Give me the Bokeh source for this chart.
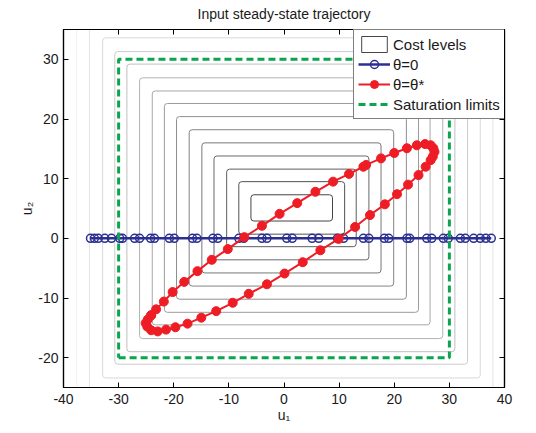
from bokeh.plotting import figure
from bokeh.models import (FixedTicker, LinearAxis, Range1d, Legend, LegendItem,
                          ColumnDataSource)
from bokeh.embed import file_html
from bokeh.resources import INLINE

# ---------------- data ----------------
title_text = "Input steady-state trajectory"
x_label = "u\u2081"
y_label = "u\u2082"
x_ticks = [-40, -30, -20, -10, 0, 10, 20, 30, 40]
y_ticks = [-20, -10, 0, 10, 20, 30]
x_tick_labels = ["-40", "-30", "-20", "-10", "0", "10", "20", "30", "40"]
y_tick_labels = ["-20", "-10", "0", "10", "20", "30"]

# cost level contours (rounded rectangles), innermost first
cost_left = [-6.0, -8.2, -10.4, -12.7, -14.9, -17.2, -19.5, -21.7, -23.9, -26.2,
             -28.5, -30.7, -32.9, -35.3, -37.6]
cost_right = [8.8, 11.0, 13.1, 15.4, 17.6, 19.9, 22.2, 24.4, 26.5, 28.8,
              31.0, 33.3, 35.6, 37.9, 40.2]
cost_bottom = [2.9, 0.7, -1.4, -3.6, -5.8, -8.0, -10.2, -12.4, -14.5, -16.8,
               -19.0, -21.1, -23.4, -25.6, -27.8]
cost_top = [7.3, 9.5, 11.6, 13.8, 16.0, 18.2, 20.4, 22.6, 24.7, 26.9,
            29.2, 31.3, 33.6, 35.8, 38.0]

# theta = 0 trajectory
blue_u1 = [-35.1, -34.4, -33.7, -32.5, -31.3, -29.8, -29.3, -27.1, -26.2, -24.2,
           -23.5, -20.8, -19.9, -16.6, -15.8, -12.9, -12.0, -8.2, -7.3, -4.0,
           -3.1, 0.5, 1.5, 5.1, 6.3, 9.7, 10.8, 14.4, 15.4, 18.2,
           19.0, 22.3, 22.8, 25.9, 26.8, 28.9, 29.8, 32.0, 32.9, 34.4,
           35.6, 36.6, 37.6]
blue_u2 = [0.0, 0.0, 0.0, 0.0, 0.0, 0.0, 0.0, 0.0, 0.0, 0.0,
           0.0, 0.0, 0.0, 0.0, 0.0, 0.0, 0.0, 0.0, 0.0, 0.0,
           0.0, 0.0, 0.0, 0.0, 0.0, 0.0, 0.0, 0.0, 0.0, 0.0,
           0.0, 0.0, 0.0, 0.0, 0.0, 0.0, 0.0, 0.0, 0.0, 0.0,
           0.0, 0.0, 0.0]

# theta = theta* trajectory (closed loop)
red_u1 = [-24.1, -23.2, -21.8, -20.2, -18.1, -15.7, -13.1, -10.2, -7.2, -4.0,
          -0.8, 2.4, 5.7, 8.9, 11.8, 14.4, 14.9, 17.6, 20.0, 22.3,
          24.1, 25.6, 26.6, 27.1, 27.3, 27.0, 26.6, 25.7, 24.4, 22.5,
          20.5, 18.3, 15.6, 12.9, 9.9, 6.6, 3.4, 0.1, -3.1, -6.4,
          -9.3, -12.3, -15.0, -17.5, -19.7, -21.4, -22.9, -24.1, -24.8, -25.1,
          -24.7, -24.1]
red_u2 = [-12.9, -11.9, -10.6, -9.0, -7.3, -5.5, -3.6, -1.8, 0.2, 2.1,
          4.1, 5.9, 7.8, 9.5, 10.8, 12.0, 12.3, 13.4, 14.3, 15.1,
          15.6, 15.8, 15.6, 15.1, 14.5, 13.7, 13.1, 12.0, 10.6, 9.0,
          7.4, 5.7, 3.9, 1.9, -0.1, -2.0, -4.0, -5.9, -7.7, -9.3,
          -10.8, -12.2, -13.3, -14.3, -14.9, -15.3, -15.6, -15.4, -14.8, -14.2,
          -13.6, -12.9]

# saturation limits
sat_u1 = [-30, 30]
sat_u2 = [-20, 30]

legend_labels = ["Cost levels", "\u03b8=0", "\u03b8=\u03b8*", "Saturation limits"]

# ---------------- styling ----------------
FONT = "Liberation Sans"
BLUE = "#2b2f91"
RED = "#ee1d25"
GREEN = "#0aa54e"

n_lev = len(cost_left)
grays = []
for i in range(n_lev):
    v = int(round(70 + (240 - 70) * i / (n_lev - 1)))
    grays.append("#%02x%02x%02x" % (v, v, v))

p = figure(width=536, height=433,
           x_range=Range1d(-40, 40), y_range=Range1d(-25, 35),
           output_backend="svg", toolbar_location=None,
           min_border_left=63, min_border_right=32,
           min_border_top=28, min_border_bottom=46,
           title=title_text)
p.title.text_font = FONT
p.title.text_font_size = "14px"
p.title.text_font_style = "normal"
p.title.align = "center"
p.title.vertical_align = "top"
p.title.standoff = 11
p.title.text_color = "#1a1a1a"

p.xgrid.visible = False
p.ygrid.visible = False
p.outline_line_color = "black"
p.outline_line_width = 1.2
p.background_fill_color = "white"
p.border_fill_color = "white"

# contours
cost_src = ColumnDataSource(dict(left=cost_left, right=cost_right,
                                 bottom=cost_bottom, top=cost_top, color=grays))
r_cost = p.quad(left="left", right="right", bottom="bottom", top="top",
                source=cost_src, fill_color=None, line_color="color",
                line_width=1, border_radius=3)

# theta = 0
r_bl = p.line(blue_u1, blue_u2, line_color=BLUE, line_width=2.5)
r_bs = p.scatter(blue_u1, blue_u2, marker="circle", size=8, fill_color=None,
                 line_color=BLUE, line_width=1.5)

# saturation limits
sat_x = [sat_u1[0], sat_u1[1], sat_u1[1], sat_u1[0], sat_u1[0]]
sat_y = [sat_u2[0], sat_u2[0], sat_u2[1], sat_u2[1], sat_u2[0]]
r_sat = p.line(sat_x, sat_y, line_color=GREEN, line_width=3, line_dash="7 4")

# theta = theta*
r_rl = p.line(red_u1, red_u2, line_color=RED, line_width=2)
r_rs = p.scatter(red_u1, red_u2, marker="circle", size=9, fill_color=RED,
                 line_color=RED, line_width=1)

# axes
def style_axis(ax, ticks, labels, show_labels=True):
    ax.ticker = FixedTicker(ticks=ticks)
    ax.minor_tick_line_color = None
    ax.major_tick_in = 5
    ax.major_tick_out = 0
    ax.axis_line_color = "black"
    ax.axis_line_width = 1.2
    ax.major_tick_line_color = "black"
    ax.major_tick_line_width = 1
    ax.major_label_text_font = FONT
    ax.axis_label_text_font = FONT
    ax.axis_label_text_font_style = "normal"
    ax.axis_label_text_font_size = "14px"
    ax.axis_label_text_color = "#1a1a1a"
    if show_labels:
        ax.major_label_overrides = {t: l for t, l in zip(ticks, labels)}
        ax.major_label_text_font_size = "14px"
        ax.major_label_text_color = "#1a1a1a"
        ax.major_label_standoff = 6
    else:
        ax.major_label_text_font_size = "1px"
        ax.major_label_text_color = None
        ax.major_label_standoff = 0

style_axis(p.xaxis[0], x_ticks, x_tick_labels)
style_axis(p.yaxis[0], y_ticks, y_tick_labels)
p.yaxis[0].major_label_standoff = 5
p.xaxis[0].axis_label = x_label
p.yaxis[0].axis_label = y_label
p.xaxis[0].axis_label_standoff = 0
p.yaxis[0].axis_label_standoff = 0

top_ax = LinearAxis()
style_axis(top_ax, x_ticks, x_tick_labels, show_labels=False)
p.add_layout(top_ax, "above")
right_ax = LinearAxis()
style_axis(right_ax, y_ticks, y_tick_labels, show_labels=False)
p.add_layout(right_ax, "right")

# legend
legend = Legend(items=[
    LegendItem(label=legend_labels[0], renderers=[r_cost], index=0),
    LegendItem(label=legend_labels[1], renderers=[r_bl, r_bs]),
    LegendItem(label=legend_labels[2], renderers=[r_rl, r_rs]),
    LegendItem(label=legend_labels[3], renderers=[r_sat]),
], location=(290, 268))
legend.label_text_font = FONT
legend.label_text_font_size = "15px"
legend.label_text_color = "#1a1a1a"
legend.glyph_width = 32
legend.glyph_height = 20
legend.label_height = 20
legend.label_standoff = 3
legend.spacing = 0
legend.padding = 4
legend.margin = 0
legend.border_line_color = "black"
legend.border_line_width = 1
legend.background_fill_color = "white"
legend.background_fill_alpha = 1
p.add_layout(legend)

open("out.html", "w").write(file_html(p, INLINE))
